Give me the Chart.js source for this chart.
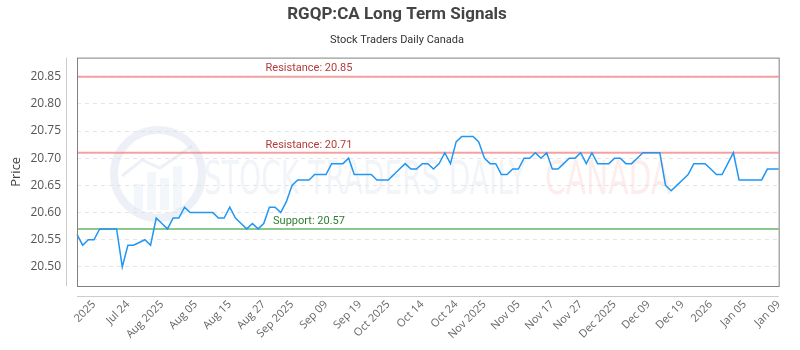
<!DOCTYPE html>
<html>
<head>
<meta charset="utf-8">
<script src="https://cdn.jsdelivr.net/npm/chart.js@4.4.0/dist/chart.umd.min.js"></script>
<style>
  html, body { margin: 0; padding: 0; background: #fff; }
</style>
</head>
<body>
<canvas id="signalChart" width="800" height="350"></canvas>
<script>
// closing prices, one per trading session
const prices = [
  20.56, 20.54, 20.55, 20.55, 20.57, 20.57, 20.57, 20.57, 20.50, 20.54,
  20.54, 20.545, 20.55, 20.54, 20.59, 20.58, 20.57, 20.59, 20.59, 20.61,
  20.60, 20.60, 20.60, 20.60, 20.60, 20.59, 20.59, 20.61, 20.59, 20.58,
  20.57, 20.58, 20.57, 20.58, 20.61, 20.61, 20.60, 20.62, 20.65, 20.66,
  20.66, 20.66, 20.67, 20.67, 20.67, 20.69, 20.69, 20.69, 20.70, 20.67,
  20.67, 20.67, 20.67, 20.66, 20.66, 20.66, 20.67, 20.68, 20.69, 20.68,
  20.68, 20.69, 20.69, 20.68, 20.69, 20.71, 20.69, 20.73, 20.74, 20.74,
  20.74, 20.73, 20.70, 20.69, 20.69, 20.67, 20.67, 20.68, 20.68, 20.70,
  20.70, 20.71, 20.70, 20.71, 20.68, 20.68, 20.69, 20.70, 20.70, 20.71,
  20.69, 20.71, 20.69, 20.69, 20.69, 20.70, 20.70, 20.69, 20.69, 20.70,
  20.71, 20.71, 20.71, 20.71, 20.65, 20.64, 20.65, 20.66, 20.67, 20.69,
  20.69, 20.69, 20.68, 20.67, 20.67, 20.69, 20.71, 20.66, 20.66, 20.66,
  20.66, 20.66, 20.68, 20.68, 20.68
];

// x-axis tick labels and the session they sit on
const tickText = ['2025', 'Jul 24', 'Aug 2025', 'Aug 05', 'Aug 15', 'Aug 27', 'Sep 2025', 'Sep 09',
  'Sep 19', 'Oct 2025', 'Oct 14', 'Oct 24', 'Nov 2025', 'Nov 05', 'Nov 17', 'Nov 27',
  'Dec 2025', 'Dec 09', 'Dec 19', '2026', 'Jan 05', 'Jan 09'];
const tickIndex = [3, 9, 15, 21, 27, 33, 38, 44, 50, 55, 61, 67, 72, 78, 84, 89, 95, 101, 107, 112, 118, 124];

// signal levels
const levelValues = [20.85, 20.71, 20.57];
const levelNames = ['Resistance', 'Resistance', 'Support'];

const xLabels = prices.map((p, i) => {
    const k = tickIndex.indexOf(i);
    return k >= 0 ? tickText[k] : '';
});

// watermark behind the line
const watermark = {
    id: 'watermark',
    beforeDatasetsDraw(chart) {
        const ctx = chart.ctx;
        ctx.save();
        // logo ring
        ctx.strokeStyle = 'rgba(210, 220, 235, 0.4)';
        ctx.lineWidth = 8;
        ctx.beginPath();
        ctx.arc(158, 174, 44, 0, Math.PI * 2);
        ctx.stroke();
        ctx.fillStyle = 'rgba(215, 224, 238, 0.3)';
        [[134, 184, 9, 26], [147, 172, 9, 38], [160, 178, 9, 32], [173, 166, 9, 44]].forEach(b => {
            ctx.fillRect(b[0], b[1], b[2], b[3]);
        });
        ctx.strokeStyle = 'rgba(215, 224, 238, 0.45)';
        ctx.lineWidth = 3;
        ctx.beginPath();
        ctx.moveTo(122, 176); ctx.lineTo(142, 160); ctx.lineTo(160, 168); ctx.lineTo(192, 146);
        ctx.stroke();

        ctx.font = '46px "DejaVu Sans Condensed", "Liberation Sans Narrow", sans-serif';
        ctx.textBaseline = 'middle';
        ctx.textAlign = 'left';
        const drawFit = (txt, x, w, color) => {
            const mw = ctx.measureText(txt).width;
            ctx.save();
            ctx.translate(x, 182);
            ctx.scale(w / mw, 1);
            ctx.fillStyle = color;
            ctx.fillText(txt, 0, 0);
            ctx.restore();
        };
        drawFit('STOCK TRADERS DAILY', 204, 322, 'rgba(210, 220, 234, 0.32)');
        drawFit('CANADA', 545, 126, 'rgba(248, 196, 196, 0.3)');
        ctx.restore();
    }
};

// support / resistance lines, drawn through the y scale
const levelLines = {
    id: 'levelLines',
    beforeDatasetsDraw(chart) {
        const { ctx, chartArea, scales } = chart;
        ctx.save();
        levelValues.forEach((v, i) => {
            const y = scales.y.getPixelForValue(v);
            const isSupport = levelNames[i] === 'Support';
            ctx.strokeStyle = isSupport ? 'rgba(120, 190, 120, 0.85)' : 'rgba(240, 130, 130, 0.75)';
            ctx.lineWidth = 2;
            ctx.beginPath();
            ctx.moveTo(chartArea.left, y);
            ctx.lineTo(chartArea.right, y);
            ctx.stroke();
            ctx.font = '11px Roboto, sans-serif';
            ctx.textAlign = 'center';
            ctx.textBaseline = 'middle';
            ctx.fillStyle = isSupport ? '#2f7d32' : '#b23b3b';
            ctx.fillText(levelNames[i] + ': ' + v.toFixed(2), scales.x.getPixelForValue(41), y - 8);
        });
        ctx.restore();
    }
};

// dark frame round the plot, light axis lines set 10px off it
const frame = {
    id: 'frame',
    afterDraw(chart) {
        const { ctx, chartArea } = chart;
        const { left, top, right, bottom } = chartArea;
        ctx.save();
        ctx.strokeStyle = '#cccccc';
        ctx.lineWidth = 1;
        ctx.beginPath();
        ctx.moveTo(left - 10.5, top);
        ctx.lineTo(left - 10.5, bottom);
        ctx.moveTo(left, bottom + 10.5);
        ctx.lineTo(right, bottom + 10.5);
        ctx.stroke();
        ctx.strokeStyle = '#808080';
        ctx.strokeRect(left + 0.5, top + 0.5, right - left, bottom - top);
        ctx.restore();
    }
};

const ctx = document.getElementById('signalChart').getContext('2d');
new Chart(ctx, {
    type: 'line',
    data: {
        labels: xLabels,
        datasets: [{
            label: 'RGQP:CA',
            data: prices,
            borderColor: '#2196f3',
            borderWidth: 1.5,
            pointRadius: 0,
            tension: 0,
            fill: false
        }]
    },
    options: {
        responsive: false,
        animation: false,
        devicePixelRatio: 1,
        layout: { padding: { left: 4, right: 10, top: 0, bottom: 0 } },
        plugins: {
            legend: { display: false },
            tooltip: { enabled: false },
            title: {
                display: true,
                text: 'RGQP:CA Long Term Signals',
                color: '#444',
                font: { family: 'Roboto', size: 17, weight: 'bold' },
                padding: { top: 5, bottom: 4 }
            },
            subtitle: {
                display: true,
                text: 'Stock Traders Daily Canada',
                color: '#333',
                font: { family: 'Roboto', size: 11 },
                padding: { top: 4, bottom: 11 }
            }
        },
        scales: {
            x: {
                grid: { display: false, drawTicks: false },
                border: { display: false },
                afterFit: (s) => { s.height = 64; },
                ticks: {
                    autoSkip: false,
                    minRotation: 45,
                    maxRotation: 45,
                    padding: 12,
                    color: '#666',
                    font: { family: 'Open Sans', size: 11 },
                    callback: (v, i) => xLabels[i] || null
                }
            },
            y: {
                min: 20.465,
                max: 20.885,
                afterFit: (s) => { s.width = 73; },
                grid: { color: '#e6e6e6', drawTicks: false },
                border: { display: false, dash: [4, 4] },
                title: {
                    display: true,
                    text: 'Price',
                    color: '#444',
                    font: { family: 'Open Sans', size: 13 },
                    padding: { top: 4, bottom: 0 }
                },
                ticks: {
                    stepSize: 0.05,
                    includeBounds: false,
                    padding: 16,
                    color: '#555',
                    font: { family: 'Open Sans', size: 12 },
                    callback: (v) => v.toFixed(2)
                }
            }
        }
    },
    plugins: [watermark, levelLines, frame]
});
</script>
</body>
</html>
